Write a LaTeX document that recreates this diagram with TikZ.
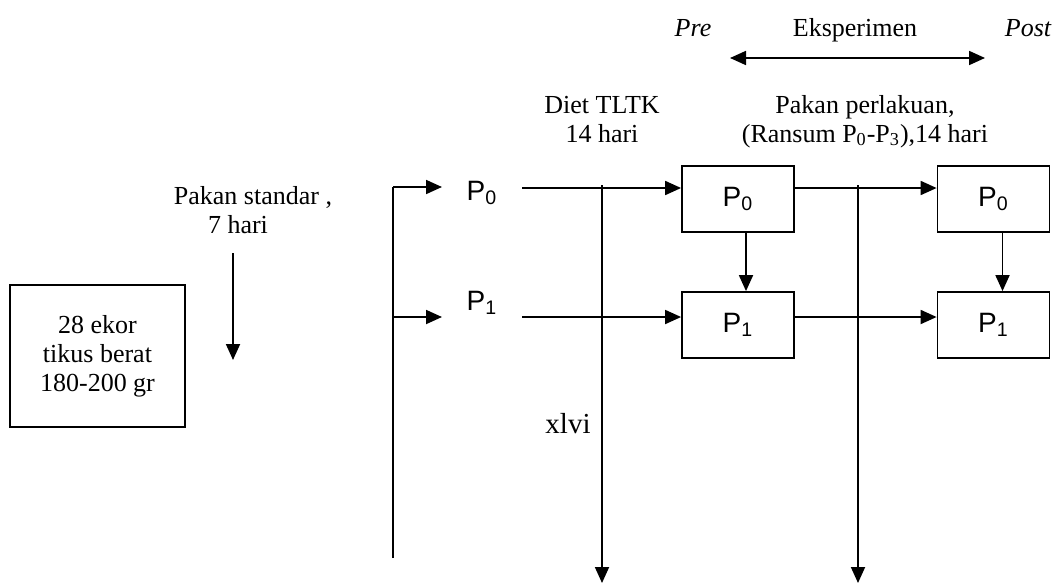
\documentclass[tikz,border=0pt]{standalone}
\usepackage{fontspec}
\setmainfont{Liberation Serif}
\newfontfamily\plabel{Liberation Sans}
\usetikzlibrary{arrows.meta,positioning}

\begin{document}
\begin{tikzpicture}[
  x=0.5pt, y=-0.5pt,
  every node/.style={font=\fontsize{13}{14.5}\selectfont},
  txt/.style={anchor=base, align=center, inner sep=0pt},
  plbl/.style={font=\plabel\fontsize{14}{16}\selectfont, inner sep=1pt},
  pbox/.style={draw, line width=0.9pt, minimum width=56pt, minimum height=33pt, font=\plabel\fontsize{14}{16}\selectfont},
  arr/.style={line width=0.9pt, -{Triangle[length=8pt,width=7pt]}},
  ln/.style={line width=0.9pt}
]
  \useasboundingbox (0,0) rectangle (1058,583);

  %% Header: experiment span
  \node[txt, font=\fontsize{13}{14.5}\selectfont\itshape] (pre) at (693,37) {Pre};
  \node[txt] (eks) at (855,37) {Eksperimen};
  \node[txt, font=\fontsize{13}{14.5}\selectfont\itshape] (post) at (1028,37) {Post};
  \coordinate (e1) at (730,58);
  \coordinate (e2) at (985,58);
  \draw[line width=0.9pt, {Triangle[length=8pt,width=7pt]}-{Triangle[length=8pt,width=7pt]}] (e1) -- (e2);

  %% Phase labels
  \node[txt] (diet) at (602,142) {Diet TLTK\\14 hari};
  \node[txt] (perl) at (865,142) {Pakan perlakuan,\\(Ransum P\textsubscript{0}-P\textsubscript{3}),14 hari};
  \node[txt] (std) at (253,233) {Pakan standar ,\\7 hari\hspace*{15pt}};

  %% Adaptation
  \node[draw, line width=0.9pt, minimum width=87.5pt, minimum height=71pt, align=center] (tikus) at (97.5,356) {28 ekor\\tikus berat\\180-200 gr};
  \coordinate (s1) at (233,253);
  \coordinate (s2) at (233,360);
  \draw[arr] (s1) -- (s2);

  %% Grouping bracket
  \coordinate (b0) at (393,187);
  \coordinate (b1) at (393,317);
  \coordinate (bb) at (393,558);
  \coordinate (a0) at (442,187);
  \coordinate (a1) at (442,317);
  \draw[ln] (bb) -- (b0);
  \draw[arr] (b0) -- (a0);
  \draw[arr] (b1) -- (a1);
  \node[plbl] (g0) at (482,193) {P\textsubscript{0}};
  \node[plbl] (g1) at (482,303) {P\textsubscript{1}};

  %% Treatment boxes
  \node[pbox] (p0a) at (738,199) {P\textsubscript{0}};
  \node[pbox] (p1a) at (738,325) {P\textsubscript{1}};
  \node[pbox] (p0b) at (993.5,199) {P\textsubscript{0}};
  \node[pbox] (p1b) at (993.5,325) {P\textsubscript{1}};

  \coordinate (l0) at (522,188);
  \coordinate (l1) at (522,317);
  \draw[arr] (l0) -- (p0a.west |- l0);
  \draw[arr] (l1) -- (p1a.west |- l1);
  \draw[arr] (p0a.east |- l0) -- (p0b.west |- l0);
  \draw[arr] (p1a.east |- l1) -- (p1b.west |- l1);
  \draw[arr] ([xshift=4pt]p0a.south) -- ([xshift=4pt]p1a.north);
  \draw[arr] ([xshift=4.5pt]p0b.south) -- ([xshift=4.5pt]p1b.north);

  %% Time cuts
  \coordinate (v1t) at (602,185);
  \coordinate (v1b) at (602,583);
  \coordinate (v2t) at (858,185);
  \coordinate (v2b) at (858,583);
  \draw[arr] (v1t) -- (v1b);
  \draw[arr] (v2t) -- (v2b);

  \node[txt, font=\fontsize{14.5}{16}\selectfont] (pg) at (568,433) {xlvi};
\end{tikzpicture}
\end{document}
